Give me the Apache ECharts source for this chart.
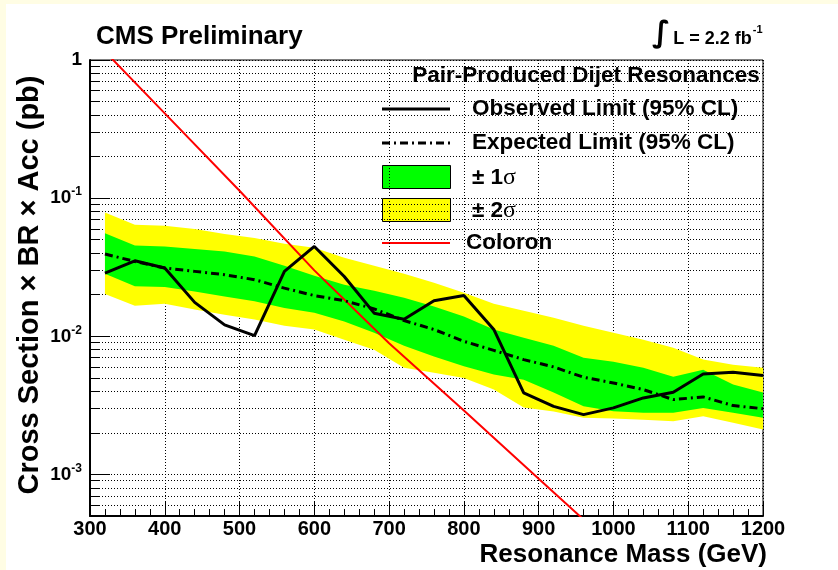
<!DOCTYPE html>
<html>
<head>
<meta charset="utf-8">
<title>Pair-Produced Dijet Resonances</title>
<script src="https://cdn.jsdelivr.net/npm/echarts@6/dist/echarts.min.js"></script>
<style>
	html, body { margin: 0; padding: 0; background: #fffde4; }
	#chart { width: 838px; height: 570px; }
</style>
</head>
<body>
<div id="chart"></div>
<script type="text/javascript">
	// resonance masses (GeV) of the limit points
	var mass = [320, 360, 400, 440, 480, 520, 560, 600, 640, 680, 720, 760, 800, 840, 880, 920, 960, 1000, 1040, 1080, 1120, 1160, 1200];
	var observed = [0.0287, 0.0352, 0.0312, 0.0176, 0.0121, 0.0101, 0.0295, 0.0447, 0.0271, 0.0147, 0.0133, 0.0181, 0.0197, 0.0112, 0.00389, 0.00311, 0.00271, 0.00303, 0.00358, 0.00393, 0.00533, 0.00548, 0.00521];
	var expected = [0.0394, 0.0348, 0.0312, 0.0295, 0.0279, 0.0257, 0.0223, 0.0197, 0.0181, 0.0158, 0.0130, 0.0112, 0.00919, 0.00791, 0.00678, 0.00600, 0.00505, 0.00459, 0.00411, 0.00348, 0.00364, 0.00315, 0.00299];
	var oneSigmaLo = [0.0284, 0.0230, 0.0227, 0.0211, 0.0194, 0.0179, 0.0160, 0.0148, 0.0128, 0.0106, 0.00855, 0.00713, 0.00606, 0.00528, 0.00485, 0.00391, 0.00311, 0.00286, 0.00279, 0.00279, 0.00303, 0.00279, 0.00257];
	var oneSigmaHi = [0.0558, 0.0454, 0.0447, 0.0428, 0.0411, 0.0378, 0.0324, 0.0274, 0.0236, 0.0214, 0.0190, 0.0164, 0.0139, 0.0112, 0.00977, 0.00855, 0.00700, 0.00655, 0.00593, 0.00510, 0.00573, 0.00447, 0.00391];
	var twoSigmaLo = [0.0202, 0.0166, 0.0172, 0.0156, 0.0143, 0.0132, 0.0119, 0.0112, 0.00945, 0.00800, 0.00593, 0.00545, 0.00499, 0.00411, 0.00305, 0.00285, 0.00257, 0.00254, 0.00249, 0.00243, 0.00264, 0.00237, 0.00211];
	var twoSigmaHi = [0.0787, 0.0641, 0.0631, 0.0597, 0.0549, 0.0514, 0.0467, 0.0437, 0.0370, 0.0324, 0.0283, 0.0244, 0.0207, 0.0172, 0.0153, 0.0136, 0.0119, 0.0106, 0.00945, 0.00827, 0.00678, 0.00623, 0.00593];

	// coloron theory curve
	var coloronMass = [300, 400, 500, 600, 700, 800, 900, 1000];
	var coloronXsec = [1.49, 0.411, 0.113, 0.030, 0.0089, 0.0029, 0.00093, 0.0003];

	// y axis ticks (log scale)
	var yMajorTicks = [0.001, 0.01, 0.1, 1];
	var yMinorTicks = [0.0005, 0.0006, 0.0007, 0.0008, 0.0009,
		0.001, 0.002, 0.003, 0.004, 0.005, 0.006, 0.007, 0.008, 0.009,
		0.01, 0.02, 0.03, 0.04, 0.05, 0.06, 0.07, 0.08, 0.09,
		0.1, 0.2, 0.3, 0.4, 0.5, 0.6, 0.7, 0.8, 0.9, 1];

	var FONT = '"Liberation Sans", Arial, Helvetica, sans-serif';

	function pairs(xs, ys) {
		return xs.map(function(x, i) { return [x, ys[i]]; });
	}

	// band polygon drawn once through the axis scales
	function bandRender(lo, hi, color) {
		return function(params, api) {
			if (params.dataIndex !== 0) return;
			var pts = [];
			for (var i = 0; i < mass.length; i++) pts.push(api.coord([mass[i], hi[i]]));
			for (var j = mass.length - 1; j >= 0; j--) pts.push(api.coord([mass[j], lo[j]]));
			return {
				type: 'polygon',
				shape: { points: pts },
				style: { fill: color, stroke: null }
			};
		};
	}

	function bandData(lo, hi) {
		return mass.map(function(m, i) { return [m, lo[i], hi[i]]; });
	}

	var myChart = echarts.init(document.getElementById('chart'));

	var option = {
		backgroundColor: '#fffde4',
		animation: false,
		title: [{
			text: 'CMS Preliminary',
			left: 96,
			top: 24,
			padding: 0,
			textStyle: { fontFamily: FONT, fontSize: 26, fontWeight: 'bold', color: '#000' }
		}, {
			text: '{i|∫}{t|L = 2.2 fb}{s|-1}',
			left: 652,
			top: 18,
			padding: 0,
			textStyle: {
				rich: {
					i: { fontFamily: '"DejaVu Sans"', fontSize: 30, color: '#000', lineHeight: 32 },
					t: { fontFamily: FONT, fontSize: 18, fontWeight: 'bold', color: '#000', padding: [10, 0, 0, 3] },
					s: { fontFamily: FONT, fontSize: 11, fontWeight: 'bold', color: '#000', padding: [0, 0, 8, 1] }
				}
			}
		}],
		grid: {
			left: 90,
			right: 75,
			top: 60,
			bottom: 54,
			show: true,
			borderColor: '#000',
			borderWidth: 1,
			backgroundColor: 'transparent',
			outerBoundsMode: 'none'
		},
		xAxis: {
			type: 'value',
			min: 300,
			max: 1200,
			interval: 100,
			axisLine: { lineStyle: { color: '#000', width: 2 } },
			axisTick: { inside: true, length: 14, lineStyle: { color: '#000', width: 1 } },
			minorTick: { show: true, splitNumber: 5, length: 7, lineStyle: { color: '#000', width: 1 } },
			axisLabel: {
				margin: 3, fontFamily: FONT, fontSize: 20, fontWeight: 'bold', color: '#000',
				showMinLabel: true, showMaxLabel: true,
				formatter: function(v) { return String(v); }
			},
			splitLine: { show: true, lineStyle: { color: '#000', width: 1, type: [1, 2] } }
		},
		yAxis: [{
			type: 'log',
			logBase: 10,
			min: 0.0005,
			max: 1,
			position: 'left',
			name: 'Cross Section × BR × Acc (pb)',
			nameLocation: 'middle',
			nameRotate: 90,
			nameGap: 46,
			nameTextStyle: { fontFamily: FONT, fontSize: 29, fontWeight: 'bold', color: '#000', padding: [0, 0, 0, 6] },
			axisLine: { lineStyle: { color: '#000', width: 2 } },
			axisTick: { inside: true, length: 10, customValues: yMinorTicks, lineStyle: { color: '#000', width: 1 } },
			axisLabel: { show: false },
			splitLine: { show: true, lineStyle: { color: '#000', width: 1, type: [1, 2] } }
		}, {
			type: 'log',
			logBase: 10,
			min: 0.0005,
			max: 1,
			position: 'left',
			axisLine: { show: false },
			axisTick: { inside: true, length: 20, customValues: yMajorTicks, lineStyle: { color: '#000', width: 1 } },
			splitLine: { show: false },
			axisLabel: {
				margin: 8,
				customValues: yMajorTicks,
				formatter: function(v) {
					var e = Math.round(Math.log10(v));
					return e === 0 ? '{b|1}' : '{b|10}{s|' + e + '}';
				},
				rich: {
					b: { fontFamily: FONT, fontSize: 19, fontWeight: 'bold', color: '#000', lineHeight: 24 },
					s: { fontFamily: FONT, fontSize: 12, fontWeight: 'bold', color: '#000', verticalAlign: 'top', lineHeight: 14 }
				}
			}
		}],
		series: [{
			name: '± 2σ',
			type: 'custom',
			renderItem: bandRender(twoSigmaLo, twoSigmaHi, '#ffff00'),
			data: bandData(twoSigmaLo, twoSigmaHi),
			encode: { x: 0, y: [1, 2] },
			silent: true
		}, {
			name: '± 1σ',
			type: 'custom',
			renderItem: bandRender(oneSigmaLo, oneSigmaHi, '#00ff00'),
			data: bandData(oneSigmaLo, oneSigmaHi),
			encode: { x: 0, y: [1, 2] },
			silent: true
		}, {
			name: 'Coloron',
			type: 'line',
			data: pairs(coloronMass, coloronXsec),
			symbol: 'none',
			clip: true,
			lineStyle: { color: '#ff0000', width: 2 }
		}, {
			name: 'Expected Limit (95% CL)',
			type: 'line',
			data: pairs(mass, expected),
			symbol: 'none',
			lineStyle: { color: '#000', width: 3, type: [8, 4, 2, 4] }
		}, {
			name: 'Observed Limit (95% CL)',
			type: 'line',
			data: pairs(mass, observed),
			symbol: 'none',
			lineStyle: { color: '#000', width: 3 }
		}],
		graphic: [{
			type: 'rect',
			z: -100,
			shape: { x: 6, y: 4, width: 832, height: 566 },
			style: { fill: '#fff' },
			silent: true
		}, {
			// x axis title, right aligned to the frame
			type: 'text',
			z: 100,
			x: 767,
			y: 555,
			style: { text: 'Resonance Mass (GeV)', fontFamily: FONT, fontSize: 26, fontWeight: 'bold', fill: '#000', align: 'right', verticalAlign: 'middle' }
		}, {
			type: 'group',
			z: 100,
			children: [{
				type: 'rect',
				shape: { x: 367, y: 61, width: 395, height: 199 },
				style: { fill: '#fff' }
			}, {
				type: 'text', x: 586, y: 76,
				style: { text: 'Pair-Produced Dijet Resonances', fontFamily: FONT, fontSize: 22.5, fontWeight: 'bold', fill: '#000', align: 'center', verticalAlign: 'middle' }
			}, {
				type: 'line', shape: { x1: 382, y1: 109, x2: 450, y2: 109 },
				style: { stroke: '#000', lineWidth: 3 }
			}, {
				type: 'text', x: 472, y: 109,
				style: { text: 'Observed Limit (95% CL)', fontFamily: FONT, fontSize: 22.5, fontWeight: 'bold', fill: '#000', verticalAlign: 'middle' }
			}, {
				type: 'line', shape: { x1: 382, y1: 143, x2: 450, y2: 143 },
				style: { stroke: '#000', lineWidth: 3, lineDash: [8, 4, 2, 4] }
			}, {
				type: 'text', x: 472, y: 143,
				style: { text: 'Expected Limit (95% CL)', fontFamily: FONT, fontSize: 22.5, fontWeight: 'bold', fill: '#000', verticalAlign: 'middle' }
			}, {
				type: 'rect', shape: { x: 382.5, y: 165.5, width: 68, height: 23 },
				style: { fill: '#00ff00', stroke: '#000', lineWidth: 1 }
			}, {
				type: 'text', x: 472, y: 178,
				style: {
					text: '{a|± 1}{g|σ}', verticalAlign: 'middle',
					rich: {
						a: { fontFamily: FONT, fontSize: 22.5, fontWeight: 'bold', fill: '#000' },
						g: { fontFamily: '"Liberation Serif", serif', fontSize: 24, fill: '#000' }
					}
				}
			}, {
				type: 'rect', shape: { x: 382.5, y: 198.5, width: 68, height: 23 },
				style: { fill: '#ffff00', stroke: '#000', lineWidth: 1 }
			}, {
				type: 'text', x: 472, y: 211,
				style: {
					text: '{a|± 2}{g|σ}', verticalAlign: 'middle',
					rich: {
						a: { fontFamily: FONT, fontSize: 22.5, fontWeight: 'bold', fill: '#000' },
						g: { fontFamily: '"Liberation Serif", serif', fontSize: 24, fill: '#000' }
					}
				}
			}, {
				type: 'line', shape: { x1: 382, y1: 243, x2: 450, y2: 243 },
				style: { stroke: '#ff0000', lineWidth: 2 }
			}, {
				type: 'text', x: 466, y: 243,
				style: { text: 'Coloron', fontFamily: FONT, fontSize: 22.5, fontWeight: 'bold', fill: '#000', verticalAlign: 'middle' }
			}]
		}]
	};

	myChart.setOption(option);
</script>
</body>
</html>
